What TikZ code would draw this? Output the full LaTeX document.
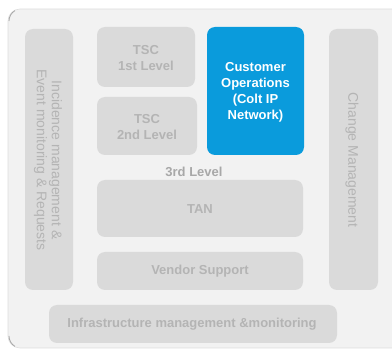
\documentclass[tikz,border=0pt]{standalone}
\usepackage{fontspec}
\setmainfont{Liberation Sans}
\definecolor{panel}{HTML}{F2F2F2}
\definecolor{boxg}{HTML}{DADADA}
\definecolor{txtg}{HTML}{B4B4B4}
\definecolor{lvlg}{HTML}{A8A8A8}
\definecolor{cblue}{HTML}{0A9BDC}
\begin{document}
\begin{tikzpicture}[x=1pt,y=-1pt,
  gbox/.style={fill=boxg,draw=none,rounded corners=8pt},
  bbox/.style={fill=cblue,draw=none,rounded corners=8pt},
  gtext/.style={font=\fontsize{13}{16}\selectfont\bfseries,text=txtg,align=center},
  wtext/.style={font=\fontsize{13}{16}\selectfont\bfseries,text=white,align=center},
  vtext/.style={rotate=-90,font=\fontsize{14}{15}\selectfont,text=txtg,align=center}]
\useasboundingbox (0,0) rectangle (392,350);
\fill[white] (0,0) rectangle (392,350);
\begin{scope}
\clip (0,0) rectangle (392,350);
\fill[panel,draw=black!13,line width=0.6pt,rounded corners=12pt] (8,9) rectangle (410,348);
\draw[black!35,line width=0.8pt] (9,21) arc[start angle=180,end angle=120,radius=12pt];
\draw[black!35,line width=0.8pt] (9,336) arc[start angle=180,end angle=240,radius=12pt];
\end{scope}
% left vertical box
\path[gbox] (25,29) rectangle (73,290);
\node[vtext] (inc) at (48,160) {Incidence management \&\\Event monitoring \& Requests};
% right vertical box
\path[gbox] (329,29) rectangle (378,290);
\node[vtext] (chg) at (352,160) {Change Management};
% TSC boxes
\path[gbox] (97,27) rectangle (195,87);
\node[gtext] (tsc1) at (146,58) {TSC\\1st Level};
\path[gbox] (97,97) rectangle (197,155);
\node[gtext] (tsc2) at (147,127) {TSC\\2nd Level};
% blue box
\path[bbox] (207,27) rectangle (304,155);
\node[wtext] (cust) at (255.5,92) {Customer\\Operations\\(Colt IP\\Network)};
% 3rd level
\node[gtext,text=lvlg] (lvl) at (194,172) {3rd Level};
% TAN
\path[gbox] (97,180) rectangle (303,237);
\node[gtext] (tan) at (200,209) {TAN};
% Vendor
\path[gbox] (97,252) rectangle (303,290);
\node[gtext] (ven) at (200,271) {Vendor Support};
% Infrastructure
\path[gbox] (49,305) rectangle (337,343);
\node[gtext] (inf) at (192,324) {Infrastructure management \&monitoring};
\end{tikzpicture}
\end{document}
